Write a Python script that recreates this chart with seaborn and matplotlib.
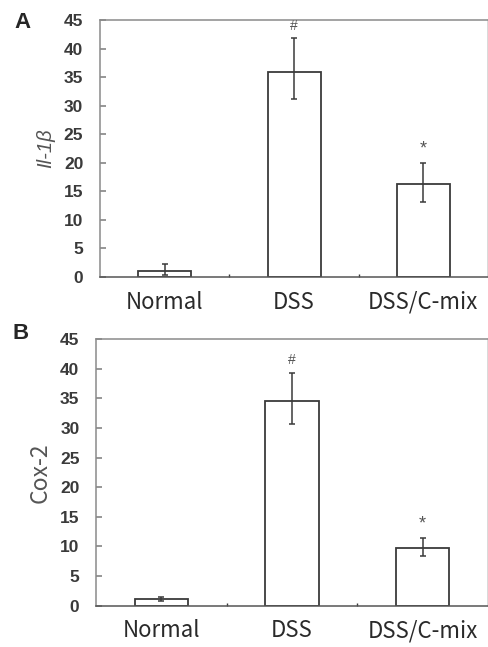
import numpy as np
import matplotlib
matplotlib.use("Agg")
import matplotlib.pyplot as plt
import seaborn as sns

# =========================
# DATA
# =========================
groups = ["Normal", "DSS", "DSS/C-mix"]

il1b_mean = [1.1, 35.9, 16.2]
il1b_err_low = [0.7, 4.7, 3.1]
il1b_err_high = [1.1, 5.9, 3.7]
il1b_marks = ["", "#", "*"]

cox2_mean = [1.05, 34.6, 9.8]
cox2_err_low = [0.35, 4.0, 1.5]
cox2_err_high = [0.4, 4.7, 1.6]
cox2_marks = ["", "#", "*"]

yticks = [0, 5, 10, 15, 20, 25, 30, 35, 40, 45]

# =========================
# CONFIG
# =========================
sns.set_theme(style="white")
plt.rcParams["font.family"] = ["Liberation Sans", "DejaVu Sans"]

spine_col = "#8a8a8a"
bar_col = "#3a3a3a"

fig = plt.figure(figsize=(4.88, 6.47), dpi=100)
ax_a = fig.add_axes([0.205, 0.572, 0.795, 0.397])
ax_b = fig.add_axes([0.197, 0.064, 0.803, 0.412])


def draw_panel(ax, means, lo, hi, marks, ylabel, ylabel_kw):
    sns.barplot(
        x=groups,
        y=means,
        color="white",
        edgecolor=bar_col,
        linewidth=1.3,
        width=0.41,
        ax=ax,
    )
    xs = np.arange(len(groups))
    ax.errorbar(
        xs, means, yerr=[lo, hi],
        fmt="none", ecolor=bar_col, elinewidth=1.1, capsize=2.5, capthick=1.1,
    )
    for x, m, h, s in zip(xs, means, hi, marks):
        if s:
            ax.annotate(s, (x, m + h), xytext=(0, 4), textcoords="offset points",
                        ha="center", va="bottom",
                        fontsize=10 if s == "#" else 13, color="#555555")

    ax.set_xlim(-0.5, 2.5)
    ax.set_ylim(0, 45)
    ax.set_yticks(yticks)
    ax.set_yticklabels([str(t) for t in yticks], fontweight="bold",
                       fontsize=12.5, color="#3a3a3a")
    ax.set_xticks(xs)
    ax.set_xticklabels(groups, fontsize=16, color="#2a2a2a",
                       family=["Noto Sans CJK KR", "DejaVu Sans"])
    ax.set_xticks([0.5, 1.5], minor=True)
    ax.tick_params(axis="x", which="major", length=0, pad=10)
    ax.tick_params(axis="x", which="minor", direction="in", length=2,
                   color=bar_col, bottom=True)
    ax.tick_params(axis="y", direction="in", length=4, color=spine_col,
                   pad=12, left=True)
    for sp in ax.spines.values():
        sp.set_color(spine_col)
        sp.set_linewidth(1.1)
    ax.spines["right"].set_color("#d0d0d0")
    ax.spines["bottom"].set_color("#555555")
    ax.set_xlabel("")
    ax.set_ylabel(ylabel, labelpad=6, **ylabel_kw)


# =========================
# PANEL A
# =========================
draw_panel(ax_a, il1b_mean, il1b_err_low, il1b_err_high, il1b_marks,
           "Il-1β", dict(fontsize=14.5, style="italic", color="#555555"))

# =========================
# PANEL B
# =========================
draw_panel(ax_b, cox2_mean, cox2_err_low, cox2_err_high, cox2_marks,
           "Cox-2", dict(fontsize=16.5, color="#555555",
                         family=["Noto Sans CJK KR", "DejaVu Sans"]))

fig.text(0.03, 0.965, "A", fontsize=16, fontweight="bold", va="center")
fig.text(0.025, 0.485, "B", fontsize=16, fontweight="bold", va="center")

plt.savefig("out.png", dpi=100)
